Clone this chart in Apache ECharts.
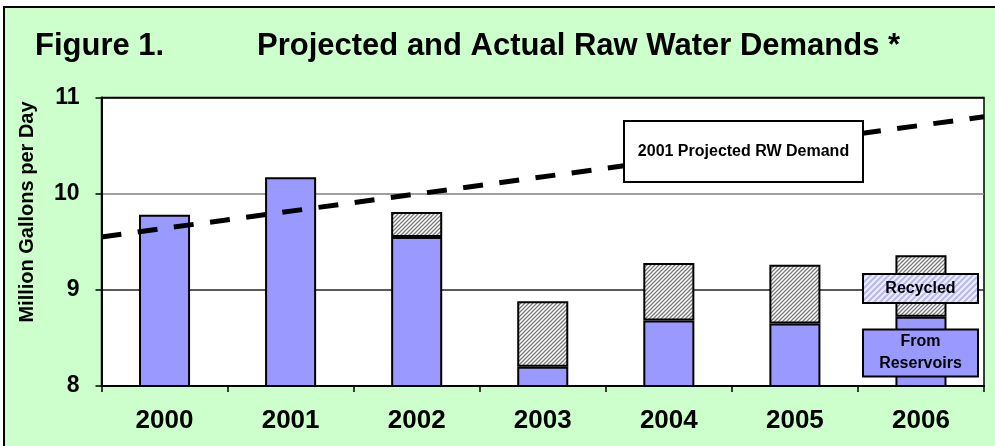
<!DOCTYPE html>
<html>
<head>
<meta charset="utf-8">
<script src="https://cdn.jsdelivr.net/npm/echarts@6/dist/echarts.min.js"></script>
<style>
html,body{margin:0;padding:0;background:#fff;}
#chart{width:995px;height:446px;}
</style>
</head>
<body>
<div id="chart"></div>
<script>
const categories = ['2000', '2001', '2002', '2003', '2004', '2005', '2006'];
const reservoirs = [9.78, 10.17, 9.55, 8.20, 8.68, 8.65, 8.72];
const recycled = [0, 0, 0.26, 0.68, 0.60, 0.61, 0.64];
const projYears = [1999.5, 2006.5];
const projDemand = [9.55, 10.80];
const yMin = 8, yMax = 11, yStep = 1;

const FONT = "'Liberation Sans', Arial, sans-serif";

function hatch(size, bg, fg, lw) {
  const c = document.createElement('canvas');
  c.width = size; c.height = size;
  const g = c.getContext('2d');
  g.fillStyle = bg; g.fillRect(0, 0, size, size);
  g.strokeStyle = fg; g.lineWidth = lw;
  g.beginPath();
  g.moveTo(-1, 1); g.lineTo(1, -1);
  g.moveTo(0, size); g.lineTo(size, 0);
  g.moveTo(size - 1, size + 1); g.lineTo(size + 1, size - 1);
  g.stroke();
  return { image: c, repeat: 'repeat' };
}
const barHatch = hatch(4, '#ffffff', '#7a7a7a', 1.3);
const legendHatch = hatch(6, '#eeeeff', '#b8b8f0', 2);

const chart = echarts.init(document.getElementById('chart'), null, { renderer: 'canvas' });
chart.setOption({
  animation: false,
  backgroundColor: '#ffffff',
  grid: {
    left: 101.5, top: 97.5, right: 11, bottom: 60,
    show: true, backgroundColor: '#ffffff', borderColor: '#000', borderWidth: 1.5
  },
  xAxis: [{
    type: 'category', data: categories, z: 6,
    axisLine: { lineStyle: { color: '#000', width: 2 } },
    axisTick: { show: true, length: 6, lineStyle: { color: '#000', width: 1.5 } },
    axisLabel: { color: '#000', fontFamily: FONT, fontWeight: 'bold', fontSize: 26, margin: 22 },
    splitLine: { show: false }
  }, {
    type: 'value', show: false, min: projYears[0], max: projYears[projYears.length - 1]
  }],
  yAxis: [{
    type: 'value', min: yMin, max: yMax, interval: yStep,
    axisLine: { show: true, lineStyle: { color: '#000', width: 2 } },
    axisTick: { show: true, length: 6, lineStyle: { color: '#000', width: 1.5 } },
    axisLabel: { color: '#000', fontFamily: FONT, fontWeight: 'bold', fontSize: 23, margin: 22 },
    splitLine: { show: true, lineStyle: { color: ['#000', '#222', '#808080', '#000'], width: 1.5 } }
  }],
  series: [{
    name: 'From Reservoirs', type: 'bar', stack: 'total', barWidth: '40.5%',
    data: reservoirs,
    itemStyle: { color: '#9999FF', borderColor: '#000', borderWidth: 2 }
  }, {
    name: 'Recycled', type: 'bar', stack: 'total', barWidth: '40.5%',
    data: recycled.map(v => v === 0 ? null : v),
    itemStyle: { color: barHatch, borderColor: '#000', borderWidth: 2 }
  }, {
    name: '2001 Projected RW Demand', type: 'line', xAxisIndex: 1, yAxisIndex: 0,
    data: projYears.map((x, i) => [x, projDemand[i]]),
    symbol: 'none', z: 5,
    lineStyle: { color: '#000', width: 5, type: [20, 16.5], cap: 'butt' }
  }],
  graphic: [
    { type: 'rect', z: -100, shape: { x: 4, y: 7, width: 1000, height: 450 },
      style: { fill: '#CCFFCC', stroke: '#000', lineWidth: 2 } },
    { type: 'text', z: 100, x: 35, y: 46,
      style: { text: 'Figure 1.', font: 'bold 31px ' + FONT, fill: '#000', align: 'left', verticalAlign: 'middle' } },
    { type: 'text', z: 100, x: 257, y: 46,
      style: { text: 'Projected and Actual Raw Water Demands *', font: 'bold 31px ' + FONT, fill: '#000', align: 'left', verticalAlign: 'middle' } },
    { type: 'text', z: 100, x: 27, y: 212, rotation: Math.PI / 2,
      style: { text: 'Million Gallons per Day', font: 'bold 20px ' + FONT, fill: '#000', align: 'center', verticalAlign: 'middle' } },
    { type: 'rect', z: 100, shape: { x: 624, y: 121, width: 239, height: 61 },
      style: { fill: '#fff', stroke: '#000', lineWidth: 2 } },
    { type: 'text', z: 101, x: 743.5, y: 152,
      style: { text: '2001 Projected RW Demand', font: 'bold 16px ' + FONT, fill: '#000', align: 'center', verticalAlign: 'middle' } },
    { type: 'rect', z: 100, shape: { x: 863, y: 274, width: 115, height: 29 },
      style: { fill: legendHatch, stroke: '#000', lineWidth: 2 } },
    { type: 'text', z: 101, x: 920.5, y: 289,
      style: { text: 'Recycled', font: 'bold 16px ' + FONT, fill: '#000', align: 'center', verticalAlign: 'middle' } },
    { type: 'rect', z: 100, shape: { x: 863, y: 329.5, width: 115, height: 47 },
      style: { fill: '#9999FF', stroke: '#000', lineWidth: 2 } },
    { type: 'text', z: 101, x: 920.5, y: 353,
      style: { text: 'From\nReservoirs', font: 'bold 16px ' + FONT, lineHeight: 22, fill: '#000', align: 'center', verticalAlign: 'middle' } }
  ]
});
</script>
</body>
</html>
